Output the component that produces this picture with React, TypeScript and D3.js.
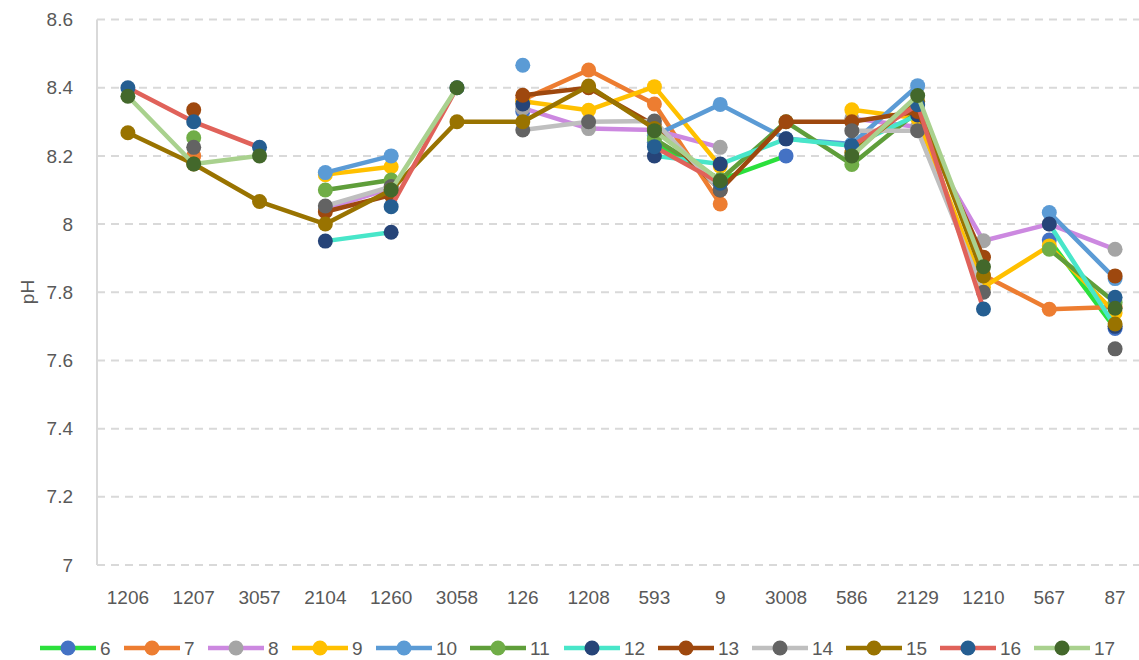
import React from 'react';
import * as d3 from 'd3';

// categories on the x axis
const sites = ['1206', '1207', '3057', '2104', '1260', '3058', '126', '1208', '593', '9', '3008', '586', '2129', '1210', '567', '87'];
const yTicks = [7, 7.2, 7.4, 7.6, 7.8, 8, 8.2, 8.4, 8.6];

// pH per series, null = no sample
const s6 = [null, null, null, null, null, null, 8.33, null, 8.24, 8.13, 8.2, null, null, null, 7.953, 7.694];
const s7 = [null, 8.2, null, null, null, null, 8.365, 8.452, 8.352, 8.059, null, null, null, 7.85, 7.75, 7.757];
const s8 = [null, null, null, 8.045, 8.105, null, 8.34, 8.28, 8.276, 8.225, null, 8.31, 8.285, 7.951, 8.0, 7.926];
const s9 = [null, null, null, 8.145, 8.168, null, 8.36, 8.334, 8.403, 8.17, null, 8.335, 8.31, 7.815, 7.936, 7.74];
const s10 = [null, null, null, 8.151, 8.2, null, 8.466, null, 8.26, 8.351, 8.25, 8.235, 8.406, null, 8.034, 7.84];
const s11 = [null, 8.253, null, 8.1, 8.129, null, null, null, 8.25, 8.13, 8.3, 8.175, 8.33, null, 7.926, 7.77];
const s12 = [null, null, null, 7.95, 7.976, null, 8.352, null, 8.2, 8.176, 8.25, 8.23, 8.32, null, 8.0, 7.7];
const s13 = [null, 8.335, null, 8.036, 8.085, null, 8.378, 8.4, 8.29, 8.1, 8.3, 8.3, 8.33, 7.903, null, 7.848];
const s14 = [null, 8.225, null, 8.053, 8.11, null, 8.276, 8.3, 8.302, 8.1, null, 8.274, 8.274, 7.8, null, 7.634];
const s15 = [8.268, 8.176, 8.066, 8.0, 8.1, 8.3, 8.3, 8.405, 8.28, null, null, 8.21, 8.36, 7.848, null, 7.707];
const s16 = [8.4, 8.3, 8.225, null, 8.051, 8.4, null, null, 8.227, 8.12, null, 8.229, 8.35, 7.751, null, 7.785];
const s17 = [8.375, 8.176, 8.2, null, 8.1, 8.4, null, null, 8.274, 8.127, null, 8.2, 8.377, 7.875, null, 7.753];

const names = ['6', '7', '8', '9', '10', '11', '12', '13', '14', '15', '16', '17'];
const lineColors = ['#2BE03C', '#ED7D31', '#CC88E0', '#FFC000', '#5B9BD5', '#5F9E3A', '#48E6C9', '#9E480E', '#BFBFBF', '#997300', '#E0625A', '#A9D18E'];
const markerColors = ['#4472C4', '#ED7D31', '#A5A5A5', '#FFC000', '#5B9BD5', '#70AD47', '#264478', '#9E480E', '#636363', '#997300', '#255E91', '#43682B'];
const values = [s6, s7, s8, s9, s10, s11, s12, s13, s14, s15, s16, s17];

const width = 1139;
const height = 660;
const font = "'Liberation Sans', Arial, sans-serif";
const textColor = '#595959';

const x = d3.scalePoint<string>().domain(sites).range([95, 1148]).padding(0.5);
const y = d3.scaleLinear().domain([7, 8.6]).range([565, 19.5]);

const line = d3
  .line<number | null>()
  .defined(d => d != null)
  .x((d, i) => x(sites[i]) as number)
  .y(d => y(d as number));

// legend layout: line, then label, entries packed left to right
let lx = 40;
const legend = names.map((n, i) => {
  const item = { name: n, i, x: lx };
  lx += 60 + n.length * 10 + 14;
  return item;
});

export default function App() {
  return (
    <svg width={width} height={height} style={{ position: 'absolute', left: 0, top: 0, background: '#fff' }}>
      {yTicks.map(t => (
        <g key={t}>
          <line x1={97} x2={width} y1={y(t)} y2={y(t)} stroke="#D9D9D9" strokeWidth={2} strokeDasharray="8,6" />
          <text x={73} y={y(t)} dy="0.35em" textAnchor="end" fontFamily={font} fontSize={19} fill={textColor}>
            {d3.format('~g')(t)}
          </text>
        </g>
      ))}
      <line x1={97} x2={97} y1={19.5} y2={565} stroke="#D9D9D9" strokeWidth={2} />
      {sites.map(s => (
        <text key={s} x={x(s)} y={597} dy="0.35em" textAnchor="middle" fontFamily={font} fontSize={19} fill={textColor}>
          {s}
        </text>
      ))}
      <text transform="translate(27,292) rotate(-90)" textAnchor="middle" dy="0.35em" fontFamily={font} fontSize={19} fill={textColor}>
        pH
      </text>

      {values.map((vals, k) => (
        <g key={names[k]}>
          <path d={line(vals) || ''} fill="none" stroke={lineColors[k]} strokeWidth={4.5} strokeLinejoin="round" strokeLinecap="round" />
          {vals.map((v, i) =>
            v == null ? null : <circle key={i} cx={x(sites[i])} cy={y(v)} r={7.5} fill={markerColors[k]} />
          )}
        </g>
      ))}

      {legend.map(d => (
        <g key={d.name}>
          <line x1={d.x} x2={d.x + 56} y1={648} y2={648} stroke={lineColors[d.i]} strokeWidth={4.5} />
          <circle cx={d.x + 28} cy={648} r={7.5} fill={markerColors[d.i]} />
          <text x={d.x + 60} y={648} dy="0.35em" fontFamily={font} fontSize={19} fill={textColor}>
            {d.name}
          </text>
        </g>
      ))}
    </svg>
  );
}
